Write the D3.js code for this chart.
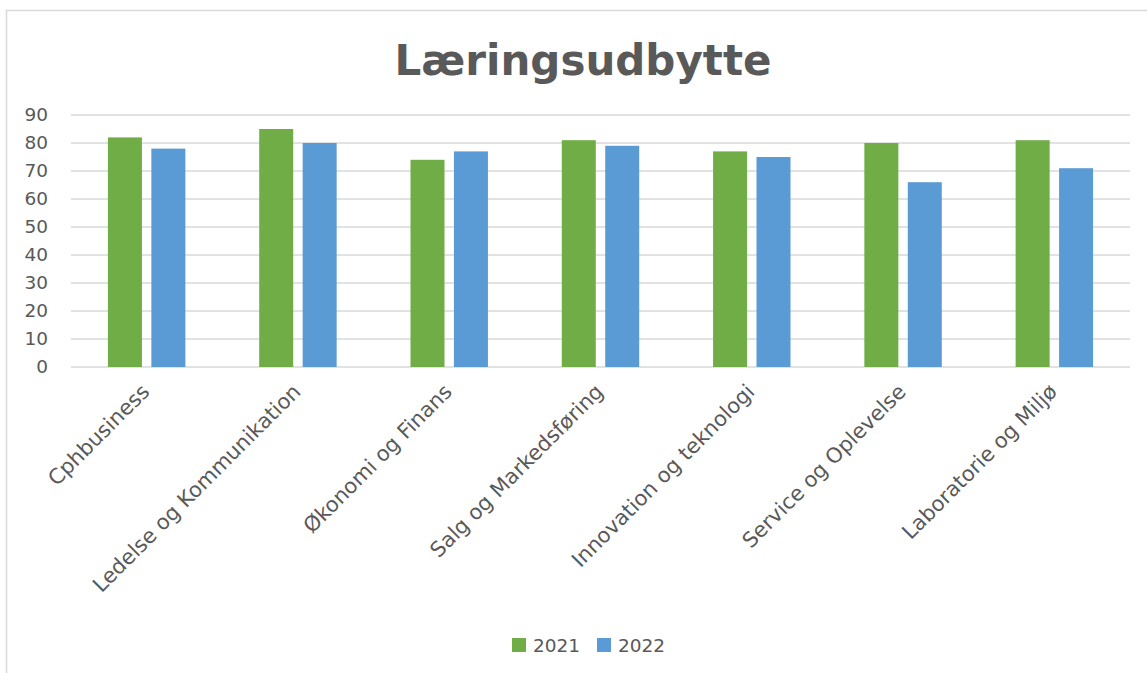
<!DOCTYPE html>
<html>
<head>
<meta charset="utf-8">
<script src="https://cdn.jsdelivr.net/npm/d3@7"></script>
<style>
  html, body { margin: 0; padding: 0; background: #fff; }
  svg { display: block; font-family: "DejaVu Sans", Verdana, sans-serif; }
</style>
</head>
<body>
<svg id="chart" width="1147" height="673"></svg>
<script>
const categories = ["Cphbusiness", "Ledelse og Kommunikation", "Økonomi og Finans", "Salg og Markedsføring", "Innovation og teknologi", "Service og Oplevelse", "Laboratorie og Miljø"];
const seriesNames = ["2021", "2022"];
const values2021 = [82, 85, 74, 81, 77, 80, 81];
const values2022 = [78, 80, 77, 79, 75, 66, 71];
const yTicks = [0, 10, 20, 30, 40, 50, 60, 70, 80, 90];
const title = "Læringsudbytte";
const colors = ["#70AD47", "#5B9BD5"];

const svg = d3.select("#chart");
const textColor = "#595959";
const gridColor = "#D9D9D9";

// chart border
svg.append("rect").attr("x", 6.5).attr("y", 10.5).attr("width", 1160).attr("height", 680)
  .attr("fill", "#fff").attr("stroke", gridColor).attr("stroke-width", 1.5);

// title
svg.append("text").attr("x", 583).attr("y", 75).attr("text-anchor", "middle")
  .attr("font-size", 42).attr("font-weight", "bold").attr("fill", textColor).text(title);

const x = d3.scaleBand().domain(categories).range([71, 1130]).padding(0);
const xs = d3.scaleBand().domain(seriesNames).range([0, x.bandwidth()]).paddingInner(0.217).paddingOuter(0.85);
const y = d3.scaleLinear().domain([0, 90]).range([367, 115]);

// gridlines
svg.append("g").selectAll("line").data(yTicks).join("line")
  .attr("x1", 71).attr("x2", 1130)
  .attr("y1", d => y(d)).attr("y2", d => y(d))
  .attr("stroke", gridColor).attr("stroke-width", 1.5);

// y labels
const yAxis = d3.axisLeft(y).tickValues(yTicks).tickSize(0).tickPadding(0);
const yg = svg.append("g").attr("transform", "translate(48,0)").call(yAxis);
yg.select(".domain").remove();
yg.selectAll("text").attr("font-size", 18.5).attr("fill", textColor).attr("font-family", "DejaVu Sans");

// bars
const data = categories.map((c, i) => ({ c, vals: [values2021[i], values2022[i]] }));
const groups = svg.append("g").selectAll("g").data(data).join("g")
  .attr("transform", d => `translate(${x(d.c)},0)`);
groups.selectAll("rect").data(d => d.vals.map((v, j) => ({ s: seriesNames[j], v, j }))).join("rect")
  .attr("x", d => xs(d.s)).attr("width", xs.bandwidth())
  .attr("y", d => y(d.v)).attr("height", d => y(0) - y(d.v))
  .attr("fill", d => colors[d.j]);

// x labels
svg.append("g").selectAll("text").data(categories).join("text")
  .attr("transform", d => `translate(${x(d) + x.bandwidth() / 2 + 4},393) rotate(-45)`)
  .attr("text-anchor", "end").attr("font-size", 21).attr("fill", textColor).text(d => d);

// legend
const legendX = [512, 597];
const lg = svg.append("g").selectAll("g").data(seriesNames).join("g")
  .attr("transform", (d, i) => `translate(${legendX[i]},638)`);
lg.append("rect").attr("width", 14).attr("height", 14).attr("fill", (d, i) => colors[i]);
lg.append("text").attr("x", 21).attr("y", 13.5).attr("font-size", 18.5).attr("fill", textColor).text(d => d);
</script>
</body>
</html>
